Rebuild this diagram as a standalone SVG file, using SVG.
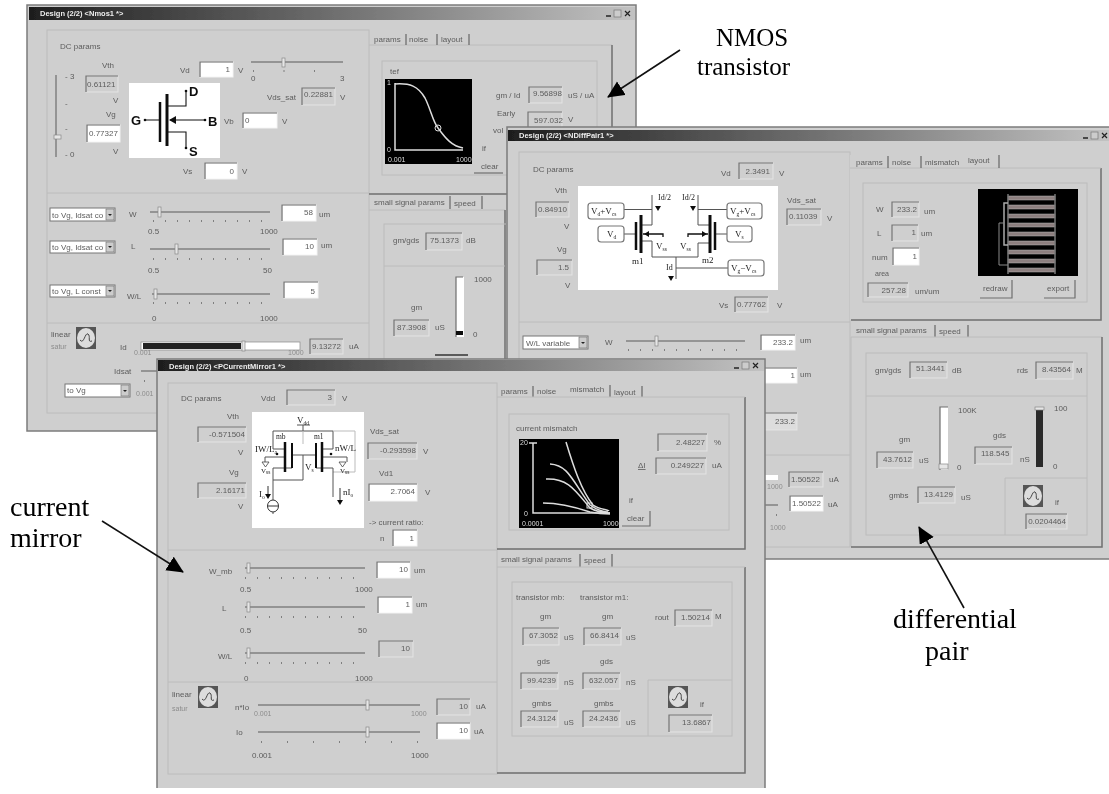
<svg xmlns="http://www.w3.org/2000/svg" width="1109" height="794" viewBox="0 0 1109 794">
<style>
text{font-family:"Liberation Sans",Arial,sans-serif;font-size:8px;fill:#5c5c5c}
.r{text-anchor:end}
.f{fill:#cfcfcf;stroke:#e4e4e4;stroke-width:1}
.w{fill:#fff;stroke:#f4f4f4;stroke-width:1}
.b{fill:none;stroke:#6e6e6e;stroke-width:1.2}
.win{fill:#cfcfcf;stroke:#7c7c7c;stroke-width:1.5}
.p{fill:none;stroke:#bcbcbc;stroke-width:1}
.ps{fill:none;stroke:#6f6f6f;stroke-width:1.5}
.sep{stroke:#666;stroke-width:1.2}
.sl{stroke:#808080;stroke-width:1.5}
.tk{stroke:#666;stroke-width:1.5;stroke-dasharray:1 11}
.th{fill:#e6e6e6;stroke:#888;stroke-width:.7}
.ttl{font-weight:bold;font-size:7.5px;fill:#eee}
.lt{fill:#8c8c8c;font-size:7px}
.sch{fill:#fff}
.k{fill:none;stroke:#111;stroke-width:1.1}
.g{fill:none;stroke:#555;stroke-width:1}
.kk{stroke:#111;stroke-width:2.5}
.tx{fill:#111}
.big{font-size:13px;font-weight:bold;fill:#111}
.sb{font-family:"Liberation Serif",serif;font-size:9px;fill:#222}
.sm{font-size:5.5px}
.bx{fill:#fff;stroke:#777;stroke-width:1.2}
.blk{fill:#000}
.wl{fill:none;stroke:#ddd;stroke-width:1.5}
.plt{fill:#ddd;font-size:7px}
.btn{fill:#cfcfcf}
.ico{fill:#555}
.icc{fill:#ddd}
.ann{font-family:"Liberation Serif",serif;font-size:25px;fill:#000}
.ann2{font-family:"Liberation Serif",serif;font-size:28px;fill:#000}
.cb{fill:#fff;stroke:#777;stroke-width:1}
.ar{fill:#ccc;stroke:#777;stroke-width:.7}
.lay{fill:#8d7f7f;stroke:#bbb;stroke-width:.5}
.cn{stroke:#111;stroke-width:1.6;fill:none}
</style>
<defs>
<linearGradient id="tg"><stop offset="0" stop-color="#1e1e1e"/><stop offset=".45" stop-color="#666"/><stop offset="1" stop-color="#c2c2c2"/></linearGradient>
<filter id="soft" x="-2%" y="-2%" width="104%" height="104%"><feGaussianBlur stdDeviation="0.55"/></filter>
<marker id="ah" markerUnits="userSpaceOnUse" markerWidth="18" markerHeight="18" refX="16" refY="8" orient="auto"><path d="M0,0L17,8L0,16Z" fill="#000"/></marker>
<g id="winbtn"><path d="M0,6h5" stroke="#222" stroke-width="1.5"/><rect x="8" y="0" width="7" height="7" fill="#ccc" stroke="#777" stroke-width=".7"/><path d="M19,1l5,5M24,1l-5,5" stroke="#222" stroke-width="1.2"/></g>
<g id="icon"><rect width="20" height="22" class="ico"/><ellipse cx="10" cy="11" rx="9" ry="10" class="icc"/><path d="M4,13C8,18 9,5 12,7C15,9 11,16 16,14" fill="none" stroke="#444"/></g>
<path id="dn" d="M-3,0h6l-3,5Z" fill="#111"/>
</defs>
<rect width="1109" height="794" fill="#fff"/>

<g id="nmos-window" filter="url(#soft)">
<rect class="win" x="27" y="5" width="609" height="426"/>
<rect x="29" y="7" width="606" height="13" fill="url(#tg)"/>
<text class="ttl" x="40" y="16">Design (2/2) &lt;Nmos1 *&gt;</text>
<use href="#winbtn" x="606" y="10"/>
<rect class="p" x="47" y="30" width="322" height="383"/>
<path class="p" d="M47,193H369M47,323H369"/>
<text x="60" y="49">DC params</text>
<text x="102" y="68">Vth</text>
<rect class="f" x="86" y="76" width="32" height="16"/><path class="b" d="M86,92V76H118"/><text x="87" y="87">0.61121</text>
<line class="sl" x1="56" y1="75" x2="56" y2="157"/><rect class="th" x="54" y="135" width="7" height="4"/>
<text x="65" y="79">- 3</text><text x="65" y="106">-</text><text x="65" y="131">-</text><text x="65" y="157">- 0</text>
<text x="113" y="103">V</text><text x="106" y="117">Vg</text>
<rect class="w" x="87" y="125" width="33" height="17"/><path class="b" d="M87,142V125H120"/><text x="89" y="136">0.77327</text>
<text x="113" y="154">V</text>
<rect class="sch" x="129" y="83" width="91" height="75"/>
<path class="k" d="M145,120H160M167,106H186V91M170,120H205M167,132H186V148"/>
<path class="kk" d="M160,102V142"/><path class="kk" d="M167,94V146" style="stroke-width:3"/>
<path d="M169,120l7,-4v8Z" fill="#111"/>
<circle cx="145" cy="120" r="1.3" fill="#111"/><circle cx="186" cy="91" r="1.3" fill="#111"/><circle cx="205" cy="120" r="1.3" fill="#111"/><circle cx="186" cy="148" r="1.3" fill="#111"/>
<text class="big" x="131" y="125">G</text><text class="big" x="189" y="96">D</text><text class="big" x="208" y="126">B</text><text class="big" x="189" y="156">S</text>
<text x="180" y="73">Vd</text>
<rect class="w" x="200" y="62" width="33" height="15"/><path class="b" d="M200,77V62H233"/><text class="r" x="230" y="72">1</text><text x="238" y="73">V</text>
<line class="sl" x1="251" y1="62" x2="343" y2="62"/><rect class="th" x="282" y="58" width="3" height="9"/>
<line class="tk" x1="253" y1="71" x2="344" y2="71" style="stroke-dasharray:1 29.5"/>
<text x="251" y="81">0</text><text x="340" y="81">3</text>
<text x="267" y="100">Vds_sat</text>
<rect class="f" x="302" y="88" width="33" height="17"/><path class="b" d="M302,105V88H335"/><text x="304" y="97">0.22881</text><text x="340" y="100">V</text>
<text x="224" y="124">Vb</text>
<rect class="w" x="243" y="113" width="34" height="15"/><path class="b" d="M243,128V113H277"/><text x="245" y="123">0</text><text x="282" y="124">V</text>
<text x="183" y="174">Vs</text>
<rect class="w" x="205" y="163" width="32" height="16"/><path class="b" d="M205,179V163H237"/><text class="r" x="234" y="174">0</text><text x="242" y="174">V</text>

<rect class="cb" x="50" y="208" width="65" height="13"/><text x="52" y="218">to Vg, Idsat co</text><rect class="ar" x="106" y="209" width="8" height="11"/><path d="M108,214h4l-2,2Z" fill="#222"/>
<text x="129" y="217">W</text><line class="sl" x1="150" y1="212" x2="270" y2="212"/><rect class="th" x="158" y="207" width="3" height="10"/><line class="tk" x1="153" y1="221" x2="270" y2="221"/>
<text x="148" y="234">0.5</text><text x="260" y="234">1000</text>
<rect class="w" x="282" y="205" width="34" height="16"/><path class="b" d="M282,221V205H316"/><text class="r" x="313" y="215">58</text><text x="319" y="217">um</text>
<rect class="cb" x="50" y="241" width="65" height="12"/><text x="52" y="250">to Vg, Idsat co</text><rect class="ar" x="106" y="242" width="8" height="10"/><path d="M108,246h4l-2,2Z" fill="#222"/>
<text x="131" y="249">L</text><line class="sl" x1="150" y1="249" x2="270" y2="249"/><rect class="th" x="175" y="244" width="3" height="10"/><line class="tk" x1="153" y1="259" x2="270" y2="259"/>
<text x="148" y="273">0.5</text><text x="263" y="273">50</text>
<rect class="w" x="283" y="239" width="34" height="16"/><path class="b" d="M283,255V239H317"/><text class="r" x="314" y="249">10</text><text x="321" y="248">um</text>
<rect class="cb" x="50" y="285" width="65" height="12"/><text x="52" y="294">to Vg, L const</text><rect class="ar" x="106" y="286" width="8" height="10"/><path d="M108,290h4l-2,2Z" fill="#222"/>
<text x="127" y="299">W/L</text><line class="sl" x1="152" y1="294" x2="270" y2="294"/><rect class="th" x="154" y="289" width="3" height="10"/><line class="tk" x1="153" y1="303" x2="270" y2="303"/>
<text x="152" y="321">0</text><text x="260" y="321">1000</text>
<rect class="w" x="284" y="282" width="34" height="16"/><path class="b" d="M284,298V282H318"/><text class="r" x="315" y="294">5</text>
<text x="51" y="337">linear</text><text class="lt" x="51" y="349">satur</text>
<use href="#icon" x="76" y="327"/>
<text x="120" y="350">Id</text>
<rect x="141" y="342" width="159" height="8" fill="#fff" stroke="#888" stroke-width=".7"/><rect x="143" y="343" width="98" height="6" fill="#222"/><rect class="th" x="242" y="341" width="3" height="10"/>
<text class="lt" x="134" y="355">0.001</text><text class="lt" x="288" y="355">1000</text>
<rect class="f" x="310" y="339" width="33" height="15"/><path class="b" d="M310,354V339H343"/><text x="312" y="349">9.13272</text><text x="349" y="349">uA</text>
<text x="114" y="374">Idsat</text><line class="sl" x1="141" y1="371" x2="158" y2="371"/><line class="tk" x1="144" y1="381" x2="145" y2="381"/>
<rect class="cb" x="65" y="384" width="65" height="13"/><text x="67" y="393">to Vg</text><rect class="ar" x="121" y="385" width="8" height="11"/><path d="M123,390h4l-2,2Z" fill="#222"/>
<text class="lt" x="136" y="396">0.001</text>

<path class="p" d="M369,45H612"/><path class="ps" d="M612,45V193"/>
<text x="374" y="42">params</text><line class="sep" x1="406" y1="34" x2="406" y2="45"/><text x="409" y="42">noise</text><line class="sep" x1="437" y1="34" x2="437" y2="45"/><text x="441" y="42">layout</text><line class="sep" x1="469" y1="34" x2="469" y2="45"/>
<rect class="p" x="382" y="61" width="215" height="114"/>
<text x="390" y="74">tef</text>
<rect class="blk" x="385" y="79" width="87" height="85"/>
<path class="wl" d="M395,83V150H463M395,84C410,83 418,86 425,98C431,110 433,122 438,128C446,139 452,146 463,148"/>
<circle cx="438" cy="128" r="3" fill="none" stroke="#ddd"/>
<text class="plt" x="387" y="85">1</text><text class="plt" x="387" y="152">0</text><text class="plt" x="388" y="162">0.001</text><text class="plt" x="456" y="162">1000</text>
<text x="496" y="98">gm / Id</text>
<rect class="f" x="529" y="87" width="33" height="16"/><path class="b" d="M529,103V87H562"/><text x="533" y="96">9.56898</text><text x="568" y="98">uS / uA</text>
<text x="497" y="116">Early</text>
<rect class="f" x="528" y="112" width="34" height="15"/><path class="b" d="M528,127V112H562"/><text x="534" y="123">597.032</text><text x="568" y="122">V</text>
<text x="493" y="133">vol</text><text x="482" y="151">if</text>
<rect class="btn" x="474" y="160" width="29" height="13"/><path class="b" d="M474,173H503"/><text x="481" y="169">clear</text>

<line class="ps" x1="369" y1="194" x2="612" y2="194"/>
<text x="374" y="205">small signal params</text><line class="sep" x1="450" y1="196" x2="450" y2="209"/><text x="454" y="206">speed</text><line class="sep" x1="482" y1="196" x2="482" y2="209"/>
<path class="p" d="M369,210H505"/><path class="ps" d="M505,210V360"/>
<rect class="p" x="384" y="224" width="125" height="136"/><line class="p" x1="384" y1="266" x2="505" y2="266"/>
<text x="393" y="243">gm/gds</text>
<rect class="f" x="426" y="233" width="36" height="17"/><path class="b" d="M426,250V233H462"/><text x="430" y="243">75.1373</text><text x="466" y="243">dB</text>
<rect x="456" y="277" width="8" height="60" fill="#fff"/><path class="b" d="M456,337V277H463"/><rect x="456" y="331" width="7" height="4" fill="#111"/>
<text x="474" y="282">1000</text><text x="473" y="337">0</text>
<text x="411" y="310">gm</text>
<rect class="f" x="394" y="320" width="35" height="16"/><path class="b" d="M394,336V320H429"/><text x="397" y="330">87.3908</text><text x="435" y="330">uS</text>
<path d="M435,355H468" stroke="#333" stroke-width="1.5"/>
</g>

<g id="diffpair-window" filter="url(#soft)">
<rect class="win" x="507" y="127" width="604" height="432"/>
<rect x="508" y="130" width="601" height="11" fill="url(#tg)"/>
<text class="ttl" x="519" y="138">Design (2/2) &lt;NDiffPair1 *&gt;</text>
<use href="#winbtn" x="1083" y="132"/>
<rect class="p" x="519" y="152" width="331" height="395"/>
<path class="p" d="M519,322H850M519,455H850"/>
<text x="533" y="172">DC params</text>
<text x="721" y="176">Vd</text>
<rect class="f" x="739" y="163" width="34" height="16"/><path class="b" d="M739,179V163H773"/><text class="r" x="770" y="174">2.3491</text><text x="779" y="176">V</text>
<text x="555" y="193">Vth</text>
<rect class="f" x="536" y="202" width="33" height="15"/><path class="b" d="M536,217V202H569"/><text x="538" y="212">0.84910</text><text x="564" y="229">V</text>
<text x="557" y="252">Vg</text>
<rect class="f" x="537" y="260" width="35" height="15"/><path class="b" d="M537,275V260H572"/><text class="r" x="569" y="270">1.5</text><text x="565" y="288">V</text>
<rect class="sch" x="578" y="186" width="200" height="104"/>
<path class="g" d="M624,209.500H652M635,234H624M641,225H652V195M641,241H652V257H698V243H709M727,209.500H698M698,195V225H709M715,234H727M676,257V279M676,268H728"/>
<path class="kk" d="M636,222V250M715,222V250"/><path class="kk" d="M641,215V253M710,215V253" style="stroke-width:3"/>
<path d="M643,234H663V237M708,234H688V237" fill="none" stroke="#111" stroke-width="1.3"/><path d="M644,234l5,-3v6ZM707,234l-5,-3v6Z" fill="#111"/>
<use href="#dn" x="658" y="206"/><use href="#dn" x="693" y="206"/><use href="#dn" x="671" y="276"/>
<text class="sb" x="658" y="200" style="font-size:8px">Id/2</text><text class="sb" x="682" y="200" style="font-size:8px">Id/2</text><text class="sb" x="666" y="270" style="font-size:8px">Id</text>
<rect class="bx" x="588" y="203" width="36" height="16" rx="3"/><rect class="bx" x="598" y="226" width="26" height="16" rx="3"/><rect class="bx" x="727" y="203" width="35" height="16" rx="3"/><rect class="bx" x="727" y="226" width="25" height="16" rx="3"/><rect class="bx" x="728" y="260" width="36" height="16" rx="3"/>
<text class="sb" x="591" y="214">V<tspan class="sm" dy="1.500">d</tspan><tspan dy="-1.500">+V</tspan><tspan class="sm" dy="1.500">cs</tspan></text>
<text class="sb" x="607" y="237">V<tspan class="sm" dy="1.500">d</tspan></text>
<text class="sb" x="730" y="214">V<tspan class="sm" dy="1.500">g</tspan><tspan dy="-1.500">+V</tspan><tspan class="sm" dy="1.500">cs</tspan></text>
<text class="sb" x="735" y="237">V<tspan class="sm" dy="1.500">s</tspan></text>
<text class="sb" x="731" y="271">V<tspan class="sm" dy="1.500">g</tspan><tspan dy="-1.500">−V</tspan><tspan class="sm" dy="1.500">cs</tspan></text>
<text class="sb" x="656" y="249">V<tspan class="sm" dy="1.500">ss</tspan></text><text class="sb" x="680" y="249">V<tspan class="sm" dy="1.500">ss</tspan></text>
<text class="sb" x="632" y="264">m1</text><text class="sb" x="702" y="263">m2</text>
<text x="787" y="203">Vds_sat</text>
<rect class="f" x="787" y="209" width="34" height="16"/><path class="b" d="M787,225V209H821"/><text x="789" y="219">0.11039</text><text x="827" y="221">V</text>
<text x="719" y="308">Vs</text>
<rect class="f" x="735" y="297" width="33" height="15"/><path class="b" d="M735,312V297H768"/><text x="737" y="307">0.77762</text><text x="777" y="308">V</text>

<rect class="cb" x="523" y="336" width="65" height="13"/><text x="526" y="346">W/L variable</text><rect class="ar" x="579" y="337" width="8" height="11"/><path d="M581,342h4l-2,2Z" fill="#222"/>
<text x="605" y="345">W</text><line class="sl" x1="626" y1="341" x2="745" y2="341"/><rect class="th" x="655" y="336" width="3" height="10"/><line class="tk" x1="628" y1="350" x2="745" y2="350"/>
<rect class="w" x="761" y="335" width="34" height="15"/><path class="b" d="M761,350V335H795"/><text class="r" x="793" y="345">233.2</text><text x="800" y="343">um</text>
<rect class="w" x="763" y="368" width="34" height="15"/><path class="b" d="M763,383V368H797"/><text class="r" x="795" y="378">1</text><text x="800" y="377">um</text>
<rect class="f" x="763" y="413" width="34" height="17" style="fill:#ddd"/><path class="b" d="M763,430V413H797"/><text class="r" x="795" y="424">233.2</text>
<rect x="765" y="475" width="13" height="5" fill="#fff"/><text class="lt" x="767" y="489">1000</text>
<rect class="f" x="789" y="472" width="34" height="15"/><path class="b" d="M789,487V472H823"/><text x="791" y="482">1.50522</text><text x="829" y="482">uA</text>
<line class="sl" x1="765" y1="505" x2="778" y2="505"/><line class="tk" x1="776" y1="515" x2="777" y2="515"/><text class="lt" x="770" y="530">1000</text>
<rect class="w" x="790" y="496" width="33" height="15"/><path class="b" d="M790,511V496H823"/><text x="792" y="506">1.50522</text><text x="828" y="507">uA</text>

<rect class="btn" x="850" y="155" width="251" height="165"/>
<path class="ps" d="M851,320H1101V168"/><path class="p" d="M850,168H1101"/>
<text x="856" y="165">params</text><line class="sep" x1="888" y1="156" x2="888" y2="168"/><text x="892" y="165">noise</text><line class="sep" x1="921" y1="156" x2="921" y2="168"/><text x="925" y="165">mismatch</text><text x="968" y="163">layout</text><line class="sep" x1="999" y1="155" x2="999" y2="168"/>
<rect class="p" x="863" y="183" width="224" height="119"/>
<text x="876" y="212">W</text><rect class="f" x="892" y="202" width="27" height="15"/><path class="b" d="M892,217V202H919"/><text class="r" x="917" y="212">233.2</text><text x="924" y="214">um</text>
<text x="877" y="236">L</text><rect class="f" x="892" y="225" width="26" height="16"/><path class="b" d="M892,241V225H918"/><text class="r" x="916" y="235">1</text><text x="921" y="236">um</text>
<text x="872" y="260">num</text><rect class="w" x="893" y="248" width="26" height="17"/><path class="b" d="M893,265V248H919"/><text class="r" x="917" y="259">1</text>
<text x="875" y="276" style="font-size:7px">area</text><rect class="f" x="868" y="283" width="40" height="14"/><path class="b" d="M868,297V283H908"/><text class="r" x="906" y="293">257.28</text><text x="915" y="294">um/um</text>
<rect class="blk" x="978" y="189" width="100" height="87"/>
<rect class="lay" x="1008" y="196" width="47" height="4"/><rect class="lay" x="1008" y="205" width="47" height="4"/><rect class="lay" x="1008" y="214" width="47" height="4"/><rect class="lay" x="1008" y="223" width="47" height="4"/><rect class="lay" x="1008" y="232" width="47" height="4"/><rect class="lay" x="1008" y="241" width="47" height="4"/><rect class="lay" x="1008" y="250" width="47" height="4"/><rect class="lay" x="1008" y="259" width="47" height="4"/><rect class="lay" x="1008" y="268" width="47" height="4"/>
<path d="M1008,194V274M1055,194V274" stroke="#777" stroke-width="1.500" fill="none"/>
<path d="M1008,203H1004V245H1008" stroke="#aaa" stroke-width="1.500" fill="none"/><path d="M1004,223H999V265H1008" stroke="#888" fill="none"/>
<path class="b" d="M980,298H1012V280"/><text x="983" y="291">redraw</text>
<path class="b" d="M1044,298H1075V280"/><text x="1047" y="291">export</text>

<text x="856" y="333">small signal params</text><line class="sep" x1="935" y1="325" x2="935" y2="337"/><text x="939" y="334">speed</text><line class="sep" x1="968" y1="325" x2="968" y2="337"/>
<path class="p" d="M851,337V547M851,337H1102"/><path class="ps" d="M851,547H1102V337"/>
<rect class="p" x="866" y="353" width="221" height="182"/><line class="p" x1="866" y1="396" x2="1087" y2="396"/>
<text x="875" y="373">gm/gds</text><rect class="f" x="910" y="362" width="37" height="16"/><path class="b" d="M910,378V362H947"/><text x="916" y="371">51.3441</text><text x="952" y="373">dB</text>
<text x="1017" y="373">rds</text><rect class="f" x="1036" y="362" width="37" height="17"/><path class="b" d="M1036,379V362H1073"/><text x="1042" y="372">8.43564</text><text x="1076" y="373">M</text>
<rect x="940" y="407" width="8" height="63" fill="#fff"/><path class="b" d="M940,470V407H948"/><rect class="th" x="939" y="464" width="9" height="5"/>
<text x="958" y="413">100K</text><text x="957" y="470">0</text>
<text x="899" y="442">gm</text><rect class="f" x="877" y="452" width="36" height="16"/><path class="b" d="M877,468V452H913"/><text x="883" y="462">43.7612</text><text x="919" y="463">uS</text>
<text x="993" y="438">gds</text><rect class="f" x="975" y="447" width="37" height="17"/><path class="b" d="M975,464V447H1012"/><text x="981" y="456">118.545</text><text x="1020" y="462">nS</text>
<rect x="1036" y="410" width="7" height="57" fill="#2a2a2a"/><rect class="th" x="1035" y="407" width="9" height="3"/>
<text x="1054" y="411">100</text><text x="1053" y="469">0</text>
<text x="889" y="498">gmbs</text><rect class="f" x="918" y="487" width="37" height="16"/><path class="b" d="M918,503V487H955"/><text x="924" y="497">13.4129</text><text x="961" y="500">uS</text>
<path class="p" d="M1005,535V478H1087"/>
<use href="#icon" x="1023" y="485"/>
<text x="1055" y="505">if</text>
<rect class="f" x="1026" y="514" width="41" height="15"/><path class="b" d="M1026,529V514H1067"/><text class="r" x="1066" y="524">0.0204464</text>
</g>

<g id="mirror-window" filter="url(#soft)">
<path d="M157,788V359H765V788" fill="#cfcfcf" stroke="#7c7c7c" stroke-width="1.5"/>
<rect x="158" y="360" width="606" height="11" fill="url(#tg)"/>
<text class="ttl" x="169" y="369">Design (2/2) &lt;PCurrentMirror1 *&gt;</text>
<use href="#winbtn" x="734" y="362"/>
<rect class="p" x="168" y="383" width="329" height="391"/>
<path class="p" d="M168,550H497M168,682H497"/>
<text x="181" y="401">DC params</text><text x="261" y="401">Vdd</text>
<rect class="f" x="287" y="390" width="48" height="15"/><path class="b" d="M287,405V390H335"/><text class="r" x="332" y="400">3</text><text x="342" y="401">V</text>
<text x="227" y="419">Vth</text>
<rect class="f" x="198" y="427" width="48" height="15"/><path class="b" d="M198,442V427H246"/><text class="r" x="245" y="437">-0.571504</text><text x="238" y="455">V</text>
<text x="229" y="475">Vg</text>
<rect class="f" x="198" y="483" width="48" height="15"/><path class="b" d="M198,498V483H246"/><text class="r" x="245" y="493">2.16171</text><text x="238" y="509">V</text>
<rect class="sch" x="252" y="412" width="112" height="116"/>
<path class="g" d="M297,425H310M303,425V431M273,431H333M273,431V449H285M333,431V449H322"/>
<path d="M303,431V444M333,431H355V472H333" fill="none" stroke="#bbb"/>
<path class="g" d="M292,455H316M303,455V480M273,480H303M292,468H273V514M316,468H333V497M265,457H285M322,457H347M265,457V462M347,457V462"/>
<path class="kk" d="M285,442V472M322,442V472"/><path class="kk" d="M292,443V468M316,443V468" style="stroke-width:2"/>
<circle cx="277" cy="454" r="1.300" fill="#111"/><circle cx="331" cy="454" r="1.300" fill="#111"/>
<path d="M262,462h7l-3.500,5Z" fill="#fff" stroke="#444" stroke-width=".8"/><path d="M339,462h7l-3.500,5Z" fill="#fff" stroke="#444" stroke-width=".8"/>
<ellipse cx="273" cy="506" rx="5.500" ry="6" fill="#fff" stroke="#333"/><path d="M268,506H278" stroke="#333"/>
<path d="M268,486V494M340,488V500" stroke="#333"/><use href="#dn" x="268" y="494"/><use href="#dn" x="340" y="500"/>
<text class="sb" x="297" y="423">V<tspan class="sm" dy="1.500">dd</tspan></text>
<text class="sb" x="276" y="439" style="font-size:7.500px">mb</text><text class="sb" x="314" y="439" style="font-size:7.500px">m1</text>
<text class="sb" x="255" y="452">IW/L<tspan class="sm" dy="1.500">a</tspan></text><text class="sb" x="335" y="451">nW/L</text>
<text class="sb" x="261" y="473" style="font-size:7px">V<tspan class="sm" dy="1">ss</tspan></text><text class="sb" x="340" y="473" style="font-size:7px">V<tspan class="sm" dy="1">ss</tspan></text>
<text class="sb" x="305" y="470">V<tspan class="sm" dy="1.500">s</tspan></text>
<text class="sb" x="259" y="497">I<tspan class="sm" dy="1.500">o</tspan></text><text class="sb" x="343" y="495">nI<tspan class="sm" dy="1.500">o</tspan></text>
<text x="370" y="434">Vds_sat</text>
<rect class="f" x="368" y="443" width="49" height="16"/><path class="b" d="M368,459V443H417"/><text class="r" x="416" y="453">-0.293598</text><text x="423" y="454">V</text>
<text x="379" y="476">Vd1</text>
<rect class="w" x="369" y="484" width="48" height="17"/><path class="b" d="M369,501V484H417"/><text class="r" x="415" y="494">2.7064</text><text x="425" y="495">V</text>
<text x="369" y="525">-&gt; current ratio:</text><text x="380" y="541">n</text>
<rect class="w" x="393" y="530" width="24" height="16"/><path class="b" d="M393,546V530H417"/><text class="r" x="414" y="541">1</text>

<text x="209" y="574">W_mb</text><line class="sl" x1="245" y1="568" x2="365" y2="568"/><rect class="th" x="247" y="563" width="3" height="10"/><line class="tk" x1="245" y1="578" x2="365" y2="578"/>
<text x="240" y="592">0.5</text><text x="355" y="592">1000</text>
<rect class="w" x="377" y="562" width="33" height="16"/><path class="b" d="M377,578V562H410"/><text class="r" x="408" y="572">10</text><text x="414" y="573">um</text>
<text x="222" y="611">L</text><line class="sl" x1="245" y1="607" x2="365" y2="607"/><rect class="th" x="247" y="602" width="3" height="10"/><line class="tk" x1="245" y1="617" x2="365" y2="617"/>
<text x="240" y="633">0.5</text><text x="358" y="633">50</text>
<rect class="w" x="378" y="597" width="34" height="16"/><path class="b" d="M378,613V597H412"/><text class="r" x="410" y="607">1</text><text x="416" y="607">um</text>
<text x="218" y="659">W/L</text><line class="sl" x1="245" y1="653" x2="365" y2="653"/><rect class="th" x="247" y="648" width="3" height="10"/><line class="tk" x1="245" y1="663" x2="365" y2="663"/>
<text x="244" y="681">0</text><text x="355" y="681">1000</text>
<rect class="f" x="379" y="641" width="34" height="16"/><path class="b" d="M379,657V641H413"/><text class="r" x="410" y="651">10</text>
<text x="172" y="697">linear</text><text class="lt" x="172" y="711">satur</text>
<use href="#icon" x="198" y="686"/>
<text x="235" y="710">n*Io</text><line class="sl" x1="258" y1="705" x2="420" y2="705"/><rect class="th" x="366" y="700" width="3" height="10"/>
<text class="lt" x="254" y="716">0.001</text><text class="lt" x="411" y="716">1000</text>
<rect class="f" x="437" y="699" width="33" height="16"/><path class="b" d="M437,715V699H470"/><text class="r" x="468" y="709">10</text><text x="476" y="709">uA</text>
<text x="236" y="735">Io</text><line class="sl" x1="258" y1="732" x2="420" y2="732"/><rect class="th" x="366" y="727" width="3" height="10"/><line class="tk" x1="261" y1="742" x2="418" y2="742" style="stroke-dasharray:1 25"/>
<text x="252" y="758">0.001</text><text x="411" y="758">1000</text>
<rect class="w" x="437" y="723" width="33" height="16"/><path class="b" d="M437,739V723H470"/><text class="r" x="468" y="733">10</text><text x="474" y="734">uA</text>

<text x="501" y="394">params</text><line class="sep" x1="533" y1="386" x2="533" y2="397"/><text x="537" y="394">noise</text><text x="570" y="392">mismatch</text><line class="sep" x1="610" y1="385" x2="610" y2="397"/><text x="614" y="395">layout</text><line class="sep" x1="642" y1="386" x2="642" y2="397"/>
<path class="ps" d="M497,549H745V397"/><path class="p" d="M497,397H745"/>
<rect class="p" x="509" y="414" width="220" height="116"/>
<text x="516" y="431">current mismatch</text>
<rect class="blk" x="519" y="439" width="100" height="89"/>
<path class="wl" d="M533,443V513H610M529,443H537"/>
<path class="wl" d="M566,442C573,465 581,490 593,505C600,510 608,509 609,511M550,464C568,465 572,480 590,505C598,511 606,512 608,512M546,479C568,478 575,490 590,508C597,512 606,513 610,513M543,503C560,503 575,507 590,512C600,514 606,514 610,514"/>
<rect x="587" y="503" width="5" height="5" fill="none" stroke="#ddd"/>
<text class="plt" x="520" y="445">20</text><text class="plt" x="524" y="516">0</text><text class="plt" x="522" y="526">0.0001</text><text class="plt" x="603" y="526">1000</text>
<rect class="f" x="658" y="434" width="49" height="17"/><path class="b" d="M658,451V434H707"/><text class="r" x="705" y="445">2.48227</text><text x="714" y="445">%</text>
<text x="638" y="468" text-decoration="underline">ΔI</text>
<rect class="f" x="656" y="458" width="50" height="16"/><path class="b" d="M656,474V458H706"/><text class="r" x="704" y="468">0.249227</text><text x="712" y="468">uA</text>
<text x="629" y="503">if</text>
<path class="b" d="M622,526H650V511"/><text x="627" y="521">clear</text>

<text x="501" y="562">small signal params</text><line class="sep" x1="580" y1="554" x2="580" y2="567"/><text x="584" y="563">speed</text><line class="sep" x1="612" y1="554" x2="612" y2="567"/>
<path class="ps" d="M497,773H745V567"/><path class="p" d="M497,567H745"/>
<rect class="p" x="512" y="582" width="220" height="154"/>
<text x="516" y="600">transistor mb:</text><text x="580" y="600">transistor m1:</text>
<text x="540" y="619">gm</text><text x="602" y="619">gm</text>
<rect class="f" x="523" y="628" width="36" height="17"/><path class="b" d="M523,645V628H559"/><text x="529" y="638">67.3052</text><text x="564" y="640">uS</text>
<rect class="f" x="584" y="628" width="37" height="17"/><path class="b" d="M584,645V628H621"/><text x="590" y="638">66.8414</text><text x="626" y="640">uS</text>
<text x="537" y="664">gds</text><text x="600" y="664">gds</text>
<rect class="f" x="521" y="673" width="37" height="16"/><path class="b" d="M521,689V673H558"/><text x="527" y="683">99.4239</text><text x="564" y="685">nS</text>
<rect class="f" x="583" y="673" width="37" height="16"/><path class="b" d="M583,689V673H620"/><text x="589" y="683">632.057</text><text x="626" y="685">nS</text>
<text x="532" y="706">gmbs</text><text x="594" y="706">gmbs</text>
<rect class="f" x="521" y="711" width="37" height="16"/><path class="b" d="M521,727V711H558"/><text x="527" y="721">24.3124</text><text x="564" y="725">uS</text>
<rect class="f" x="583" y="711" width="37" height="16"/><path class="b" d="M583,727V711H620"/><text x="589" y="721">24.2436</text><text x="626" y="725">uS</text>
<text x="655" y="620">rout</text>
<rect class="f" x="675" y="610" width="37" height="16"/><path class="b" d="M675,626V610H712"/><text x="681" y="620">1.50214</text><text x="715" y="619">M</text>
<path class="p" d="M648,736V680H732"/>
<use href="#icon" x="668" y="686"/>
<text x="700" y="707">if</text>
<rect class="f" x="669" y="715" width="43" height="17"/><path class="b" d="M669,732V715H712"/><text class="r" x="711" y="725">13.6867</text>
</g>

<g id="annotations">
<text class="ann" x="716" y="46">NMOS</text><text class="ann" x="697" y="75">transistor</text>
<text class="ann2" x="10" y="516">current</text><text class="ann2" x="10" y="547">mirror</text>
<text class="ann2" x="893" y="628">differential</text><text class="ann2" x="925" y="660">pair</text>
</g>
<g id="connectors">
<path class="cn" marker-end="url(#ah)" d="M680,50L608,97"/>
<path class="cn" marker-end="url(#ah)" d="M102,521L183,572"/>
<path class="cn" marker-end="url(#ah)" d="M964,608L919,527"/>
</g>
</svg>
